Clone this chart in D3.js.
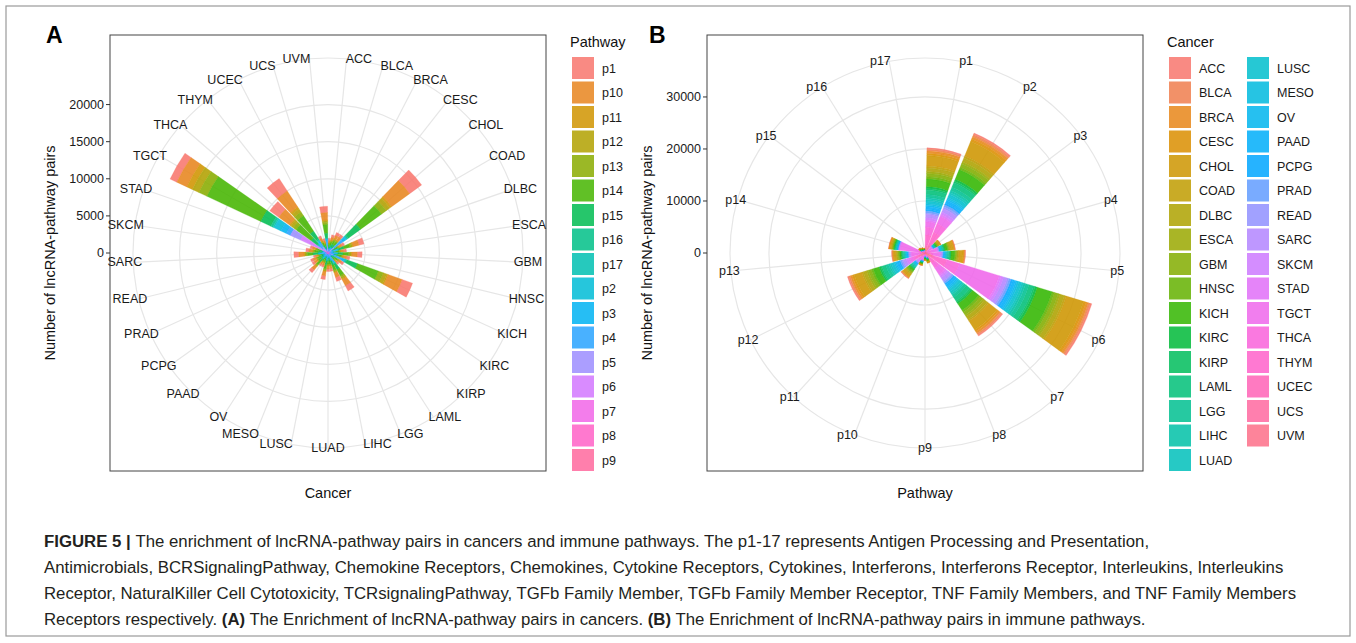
<!DOCTYPE html>
<html>
<head>
<meta charset="utf-8">
<script src="https://cdn.jsdelivr.net/npm/d3@7"></script>
<style>
  body { margin: 0; background: #fff; }
  text { font-family: "Liberation Sans", Arial, sans-serif; }
  .cap { font-family: "Liberation Sans Narrow", "Liberation Sans", Arial, sans-serif; font-size: 16.8px; fill: #231f20; }
</style>
</head>
<body>
<svg id="fig" width="1356" height="643"></svg>
<script>
// cancers (alphabetical, as in the plot)
const cancers = ["ACC","BLCA","BRCA","CESC","CHOL","COAD","DLBC","ESCA","GBM","HNSC","KICH","KIRC","KIRP",
  "LAML","LGG","LIHC","LUAD","LUSC","MESO","OV","PAAD","PCPG","PRAD","READ","SARC","SKCM","STAD",
  "TGCT","THCA","THYM","UCEC","UCS","UVM"];
// pathways in numeric order (columns of the table below)
const pathways = ["p1","p2","p3","p4","p5","p6","p7","p8","p9","p10","p11","p12","p13","p14","p15","p16","p17"];
// legend labels of panel A (factor order of the original)
const pathwayLegend = ["p1","p10","p11","p12","p13","p14","p15","p16","p17","p2","p3","p4","p5","p6","p7","p8","p9"];

// lncRNA-pathway pairs, one row per cancer, columns p1..p17
const pairs = [
  [300,320,40,60,100,300,280,20,20,30,90,260,80,50,20,15,15],       // ACC
  [350,420,50,90,110,400,350,30,25,30,110,320,100,60,25,20,10],     // BLCA
  [450,500,60,100,150,450,420,40,30,40,120,380,130,70,30,20,10],    // BRCA
  [400,520,70,110,130,500,400,30,30,40,140,400,120,60,25,15,10],    // CESC
  [2000,3000,300,600,800,3500,2000,200,100,100,500,1500,400,300,100,100,100], // CHOL
  [380,400,50,80,120,380,330,30,20,30,110,330,110,50,20,20,20],     // COAD
  [700,800,100,170,230,820,700,60,50,60,220,650,200,120,50,40,30],  // DLBC
  [360,400,50,90,110,400,350,30,25,30,110,320,110,60,20,20,15],     // ESCA
  [650,750,90,150,210,750,650,50,45,60,200,600,190,110,40,35,20],   // GBM
  [430,480,60,100,140,480,420,35,30,40,130,390,125,70,30,20,20],    // HNSC
  [1500,2000,200,500,700,3000,1500,150,100,100,400,1200,300,200,100,100,50], // KICH
  [350,400,50,80,120,410,350,30,25,35,110,320,100,60,25,20,15],     // KIRC
  [290,330,40,70,90,320,280,25,20,25,85,260,85,45,15,10,10],        // KIRP
  [820,950,110,200,270,920,820,70,60,70,250,750,240,140,50,40,30],  // LAML
  [570,650,80,130,180,650,560,45,40,50,170,520,170,100,40,30,15],   // LGG
  [360,400,50,80,120,400,350,30,25,35,110,320,100,60,30,20,10],     // LIHC
  [350,410,50,90,110,390,360,30,25,30,110,330,105,60,25,15,10],     // LUAD
  [510,580,70,120,170,580,500,40,35,50,150,470,150,80,35,30,30],    // LUSC
  [280,330,40,70,90,330,280,25,20,25,90,260,85,45,15,10,5],         // MESO
  [290,320,40,60,100,320,290,20,20,25,85,260,80,50,20,10,10],       // OV
  [480,550,70,110,160,550,480,40,35,45,150,440,140,80,30,30,30],    // PAAD
  [360,400,50,80,110,410,350,30,25,35,110,320,110,60,25,15,10],     // PCPG
  [350,410,50,90,120,390,350,30,25,30,110,330,100,60,25,20,10],     // PRAD
  [280,330,40,70,90,330,280,25,20,25,90,260,85,45,15,10,5],         // READ
  [660,740,90,150,210,740,650,55,45,60,200,600,190,110,40,35,25],   // SARC
  [420,490,60,100,140,480,430,35,30,40,130,390,125,70,30,20,10],    // SKCM
  [360,400,50,80,110,400,360,30,25,30,110,320,110,60,30,20,15],     // STAD
  [1000,1500,800,1000,1200,8000,1500,300,200,1000,800,600,1500,3500,200,200,200], // TGCT
  [1500,1800,200,400,500,2500,1000,100,100,100,200,500,300,300,100,50,50],    // THCA
  [2000,2600,300,500,600,2500,1200,200,100,100,300,600,300,400,100,100,100],  // THYM
  [350,410,50,90,120,400,340,30,25,35,110,330,100,60,25,15,10],     // UCEC
  [290,320,40,70,90,330,280,25,20,25,90,260,80,50,15,10,5],         // UCS
  [850,1000,100,200,300,1200,600,100,50,50,200,800,300,500,50,0,0]  // UVM
];

const ticksA = [0, 5000, 10000, 15000, 20000];
const ticksB = [0, 10000, 20000, 30000];

const svg = d3.select("#fig");

// R-style hcl() (polar CIE-Luv) -> hex, as used by ggplot's default hue palette
function hclLuv(h, c, l) {
  const Xn = 95.047, Yn = 100, Zn = 108.883;
  const un = 4 * Xn / (Xn + 15 * Yn + 3 * Zn), vn = 9 * Yn / (Xn + 15 * Yn + 3 * Zn);
  const hr = h * Math.PI / 180, u = c * Math.cos(hr), v = c * Math.sin(hr);
  const Y = Yn * Math.pow((l + 16) / 116, 3);
  const up = u / (13 * l) + un, vp = v / (13 * l) + vn;
  const X = Y * 9 * up / (4 * vp), Z = Y * (12 - 3 * up - 20 * vp) / (4 * vp);
  const x = X / 100, y = Y / 100, z = Z / 100;
  const lin = [3.2404542 * x - 1.5371385 * y - 0.4985314 * z,
              -0.9692660 * x + 1.8760108 * y + 0.0415560 * z,
               0.0556434 * x - 0.2040259 * y + 1.0572252 * z];
  const g = lin.map(t => {
    const s = t <= 0.0031308 ? 12.92 * t : 1.055 * Math.pow(t, 1 / 2.4) - 0.055;
    return Math.round(Math.max(0, Math.min(1, s)) * 255);
  });
  return d3.rgb(g[0], g[1], g[2]).formatHex();
}
const hue = n => d3.range(n).map(i => hclLuv(15 + 360 * i / n, 100, 65));
const palA = hue(17), palB = hue(33);

// figure frame
svg.append("rect").attr("x", 6).attr("y", 6).attr("width", 1344).attr("height", 630)
  .attr("fill", "none").attr("stroke", "#9a9a9a").attr("stroke-width", 1.2);

// stacked polar bars: groups[i] = values in stacking order (first = outermost)
function polar(opt) {
  const { x0, y0, size, cats, groups, colors, ticks, rOuter } = opt;
  const cx = x0 + size / 2, cy = y0 + size / 2;
  const n = cats.length;
  const totals = groups.map(g => d3.sum(g));
  const r = d3.scaleLinear().domain([0, d3.max(totals)]).range([0, size * 0.4]);
  const ang = d3.scaleLinear().domain([0, n]).range([0, 2 * Math.PI]);

  svg.append("rect").attr("x", x0).attr("y", y0).attr("width", size).attr("height", size)
    .attr("fill", "#fff").attr("stroke", "#444").attr("stroke-width", 1);
  const g = svg.append("g").attr("transform", `translate(${cx},${cy})`);

  // grid
  ticks.concat([r.invert(rOuter)]).forEach(t => {
    g.append("circle").attr("r", r(t)).attr("fill", "none").attr("stroke", "#e6e6e6").attr("stroke-width", 1.2);
  });
  cats.forEach((c, i) => {
    const a = ang(i + 0.5);
    g.append("line").attr("x1", 0).attr("y1", 0)
      .attr("x2", rOuter * Math.sin(a)).attr("y2", -rOuter * Math.cos(a))
      .attr("stroke", "#e6e6e6").attr("stroke-width", 1.2);
  });

  // bars
  const arc = d3.arc();
  groups.forEach((vals, i) => {
    let top = d3.sum(vals);
    vals.forEach((v, k) => {
      if (v <= 0) return;
      g.append("path").attr("d", arc({
        innerRadius: r(top - v), outerRadius: r(top),
        startAngle: ang(i + 0.05), endAngle: ang(i + 0.95)
      })).attr("fill", colors[k]).attr("fill-opacity", 0.88)
        .attr("stroke", colors[k]).attr("stroke-opacity", 0.88).attr("stroke-width", 0.3);
      top -= v;
    });
  });

  // theta labels
  cats.forEach((c, i) => {
    const a = ang(i + 0.5), s = Math.sin(a), co = Math.cos(a);
    const anchor = s > 0.08 ? "start" : s < -0.08 ? "end" : "middle";
    g.append("text").attr("x", 186 * s).attr("y", -190 * co + 4 - 5 * co)
      .attr("text-anchor", anchor).attr("font-size", 12.5).attr("fill", "#1a1a1a").text(c);
  });

  // radial axis on the left of the panel
  ticks.forEach(t => {
    const y = cy - r(t);
    svg.append("line").attr("x1", x0 - 4).attr("x2", x0).attr("y1", y).attr("y2", y).attr("stroke", "#333");
    svg.append("text").attr("x", x0 - 6).attr("y", y + 4).attr("text-anchor", "end")
      .attr("font-size", 12.5).attr("fill", "#1a1a1a").text(t);
  });
  svg.append("text").attr("transform", `translate(${x0 - 55},${cy}) rotate(-90)`)
    .attr("text-anchor", "middle").attr("font-size", 14.5).attr("fill", "#111")
    .text("Number of lncRNA-pathway pairs");
  svg.append("text").attr("x", cx).attr("y", y0 + size + 27).attr("text-anchor", "middle")
    .attr("font-size", 14.5).attr("fill", "#111").text(opt.title);
}

// panel A: cancers on the circle, stacked by pathway
polar({ x0: 110, y0: 35, size: 436, cats: cancers, groups: pairs, colors: palA,
  ticks: ticksA, rOuter: 195, title: "Cancer" });
// panel B: pathways on the circle, stacked by cancer
const byPathway = pathways.map((p, k) => cancers.map((c, i) => pairs[i][k]));
polar({ x0: 707, y0: 35, size: 436, cats: pathways, groups: byPathway, colors: palB,
  ticks: ticksB, rOuter: 195, title: "Pathway" });

svg.append("text").attr("x", 46).attr("y", 43).attr("font-size", 23).attr("font-weight", "bold").text("A");
svg.append("text").attr("x", 649).attr("y", 43).attr("font-size", 23).attr("font-weight", "bold").text("B");

// legends
function legend(x, y, title, labels, colors, perCol, colGap) {
  svg.append("text").attr("x", x - 2).attr("y", y - 10).attr("font-size", 14.5).attr("fill", "#111").text(title);
  labels.forEach((l, i) => {
    const col = Math.floor(i / perCol), row = i % perCol;
    const kx = x + col * colGap, ky = y + row * 24.5;
    svg.append("rect").attr("x", kx).attr("y", ky).attr("width", 22).attr("height", 22)
      .attr("fill", colors[i]).attr("fill-opacity", 0.85);
    svg.append("text").attr("x", kx + 30).attr("y", ky + 15.5).attr("font-size", 12.5)
      .attr("fill", "#1a1a1a").text(l);
  });
}
legend(572, 57, "Pathway", pathwayLegend, palA, 17, 0);
legend(1169, 57, "Cancer", cancers, palB, 17, 78);

// caption, line breaks as in the original
const cap = svg.append("g").attr("class", "cap");
function capLine(y, parts) {
  const t = cap.append("text").attr("x", 44).attr("y", y);
  parts.forEach(([s, b]) => t.append("tspan").attr("font-weight", b ? "bold" : null).text(s));
}
capLine(547, [["FIGURE 5 | ", true], ["The enrichment of lncRNA-pathway pairs in cancers and immune pathways. The p1-17 represents Antigen Processing and Presentation,"]]);
capLine(573, [["Antimicrobials, BCRSignalingPathway, Chemokine Receptors, Chemokines, Cytokine Receptors, Cytokines, Interferons, Interferons Receptor, Interleukins, Interleukins"]]);
capLine(599, [["Receptor, NaturalKiller Cell Cytotoxicity, TCRsignalingPathway, TGFb Family Member, TGFb Family Member Receptor, TNF Family Members, and TNF Family Members"]]);
capLine(625, [["Receptors respectively. "], ["(A)", true], [" The Enrichment of lncRNA-pathway pairs in cancers. "], ["(B)", true], [" The Enrichment of lncRNA-pathway pairs in immune pathways."]]);
</script>
</body>
</html>
